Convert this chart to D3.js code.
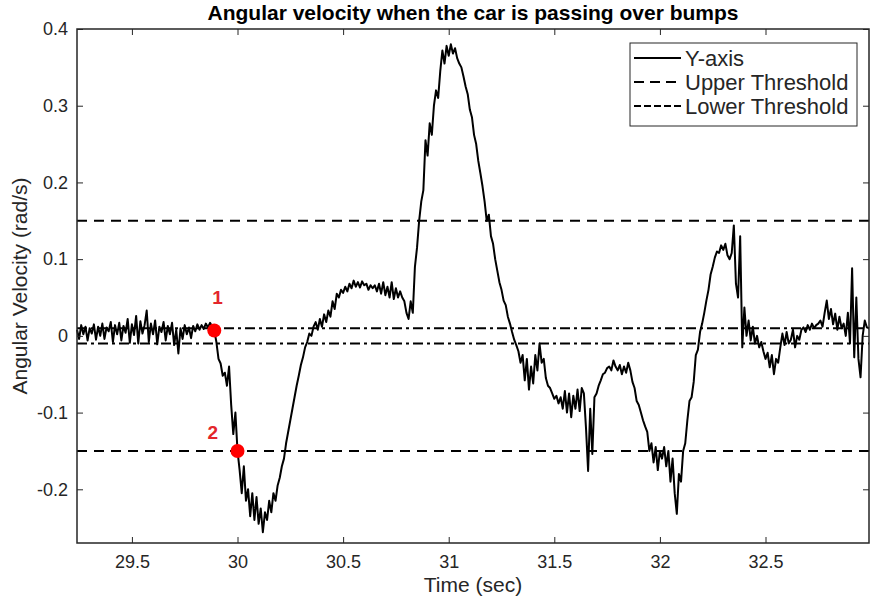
<!DOCTYPE html>
<html>
<head>
<meta charset="utf-8">
<script src="https://cdn.jsdelivr.net/npm/d3@7"></script>
<style>
  body { margin: 0; background: #fff; }
  text { font-family: "Liberation Sans", Arial, sans-serif; fill: #262626; }
</style>
</head>
<body>
<div id="chart"></div>
<script>
// signal: sampled every 10 ms starting at 29.24 s
var t0 = 29.24;
var dt = 0.01;
var yAxisValues = [
  .008,-.004,.014,.002,.012,-.006,.010,.003,.015,-.005,
  .012,.000,.016,-.004,.011,.006,.018,-.008,.014,.002,
  .017,-.006,.013,.004,.022,-.009,.015,.001,.026,-.010,
  .019,.003,.014,.033,-.008,.016,.002,.020,-.011,.012,
  .005,.018,-.006,.013,.002,.017,-.012,.008,-.023,.010,
  -.004,.014,.002,.011,-.003,.013,.006,.015,.008,.014,
  .009,.016,.011,.017,.012,.007,-.008,-.030,-.036,-.052,
  -.048,-.065,-.040,-.090,-.128,-.100,-.150,-.175,-.205,-.170,
  -.215,-.200,-.235,-.205,-.240,-.210,-.245,-.225,-.256,-.230,
  -.240,-.215,-.230,-.205,-.215,-.195,-.185,-.170,-.160,-.140,
  -.125,-.110,-.095,-.080,-.065,-.052,-.038,-.028,-.015,-.008,
  .003,.000,.012,.018,.008,.022,.012,.028,.018,.033,
  .025,.045,.035,.055,.050,.060,.056,.064,.058,.068,
  .062,.072,.064,.070,.063,.071,.066,.068,.060,.066,
  .062,.066,.058,.068,.055,.070,.053,.064,.050,.070,
  .048,.062,.050,.058,.050,.045,.030,.022,.045,.030,
  .090,.115,.150,.175,.190,.255,.235,.277,.262,.300,
  .320,.310,.345,.372,.355,.378,.365,.380,.368,.375,
  .362,.355,.350,.338,.325,.315,.295,.285,.262,.250,
  .228,.212,.195,.175,.150,.158,.130,.120,.100,.085,
  .070,.060,.046,.040,.025,.016,.005,-.005,-.012,-.020,
  -.035,-.025,-.058,-.030,-.070,-.040,-.062,-.025,-.045,-.010,
  -.035,-.030,-.055,-.065,-.068,-.075,-.082,-.078,-.088,-.080,
  -.095,-.072,-.100,-.075,-.106,-.078,-.095,-.070,-.098,-.068,
  -.075,-.120,-.176,-.095,-.154,-.080,-.075,-.065,-.058,-.050,
  -.048,-.042,-.040,-.045,-.032,-.040,-.045,-.038,-.050,-.040,
  -.048,-.035,-.045,-.060,-.068,-.085,-.090,-.100,-.110,-.118,
  -.125,-.150,-.140,-.165,-.145,-.175,-.150,-.160,-.145,-.170,
  -.150,-.190,-.160,-.205,-.232,-.180,-.190,-.150,-.140,-.110,
  -.085,-.080,-.060,-.025,-.018,.005,.016,.030,.046,.060,
  .080,.090,.102,.110,.108,.118,.112,.120,.105,.100,
  .108,.144,.068,.050,.130,-.015,.037,.000,.020,-.006,
  .012,-.010,.000,-.015,-.008,-.020,-.030,-.022,-.041,-.025,
  -.050,-.030,-.035,-.015,.003,-.012,.005,-.010,-.005,.008,
  -.015,.000,-.005,.008,.011,.005,.014,.008,.016,.010,
  .014,.016,.020,.012,.030,.046,.022,.035,.015,.029,
  .008,.025,.010,.016,.000,.030,-.010,.088,-.028,.050,
  -.030,-.054,.000,.020,.011,.010
];

var upperThreshold = [0.15, -0.15];
var lowerThreshold = [0.01, -0.01];

var markerTimes  = [29.89, 30.0];
var markerValues = [0.007, -0.15];
var markerLabels = ["1", "2"];

var xTicks = [29.5, 30, 30.5, 31, 31.5, 32, 32.5];
var yTicks = [-0.2, -0.1, 0, 0.1, 0.2, 0.3, 0.4];
var legendLabels = ["Y-axis", "Upper Threshold", "Lower Threshold"];

var svgWidth = 876, svgHeight = 608;
var plotLeft = 77, plotRight = 869, plotTop = 29, plotBottom = 543;
var axisColor = "#262626";

var svg = d3.select("#chart")
  .append("svg")
  .attr("width", svgWidth)
  .attr("height", svgHeight);

var x = d3.scaleLinear().domain([29.24, 32.99]).range([plotLeft, plotRight]);
var y = d3.scaleLinear().domain([-0.27, 0.4]).range([plotBottom, plotTop]);

var series = yAxisValues.map(function(v, i){ return {t: t0 + i * dt, v: v}; });

var dashStyle = "10,7";
var dashDotStyle = "10,4,3,4";

// plain hyphen minus like matlab
var tickFmt = function(d){ return String(d); };

////////////////////////////////////////////////////////////
// threshold lines
svg.selectAll("line.upper")
  .data(upperThreshold)
  .enter()
  .append("line")
  .attr("class", "upper")
  .attr("x1", x.range()[0]).attr("x2", x.range()[1])
  .attr("y1", d => y(d)).attr("y2", d => y(d))
  .attr("stroke", "#000")
  .attr("stroke-width", 2)
  .attr("stroke-dasharray", dashStyle);

svg.selectAll("line.lower")
  .data(lowerThreshold)
  .enter()
  .append("line")
  .attr("class", "lower")
  .attr("x1", x.range()[0]).attr("x2", x.range()[1])
  .attr("y1", d => y(d)).attr("y2", d => y(d))
  .attr("stroke", "#000")
  .attr("stroke-width", 2)
  .attr("stroke-dasharray", dashDotStyle);

// signal
var line = d3.line()
  .x(d => x(d.t))
  .y(d => y(d.v));

svg.append("path")
  .attr("d", line(series))
  .attr("fill", "none")
  .attr("stroke", "#000")
  .attr("stroke-width", 2)
  .attr("stroke-linejoin", "round");

// detection points
svg.selectAll("circle.mark")
  .data(markerTimes)
  .enter()
  .append("circle")
  .attr("class", "mark")
  .attr("cx", d => x(d))
  .attr("cy", (d, i) => y(markerValues[i]))
  .attr("r", 7)
  .attr("fill", "#ff0000");

svg.selectAll("text.mark")
  .data(markerLabels)
  .enter()
  .append("text")
  .attr("class", "mark")
  .attr("x", (d, i) => x(markerTimes[i]) + (i == 0 ? -2 : -30))
  .attr("y", (d, i) => y(markerValues[i]) - (i == 0 ? 26 : 12))
  .style("fill", "#e3262b")
  .style("font-size", "19px")
  .style("font-weight", "bold")
  .text(d => d);

////////////////////////////////////////////////////////////
// axes (MATLAB style box, ticks inside)
function styleAxis(g){
  g.select(".domain").remove();
  g.selectAll(".tick line").attr("stroke", axisColor).attr("stroke-width", 1);
  g.selectAll(".tick text").style("font-size", "18px").attr("fill", axisColor);
}

svg.append("g")
  .attr("transform", "translate(0," + plotBottom + ")")
  .call(d3.axisBottom(x).tickValues(xTicks).tickSize(-6).tickPadding(12).tickFormat(tickFmt))
  .call(styleAxis);

svg.append("g")
  .attr("transform", "translate(0," + plotTop + ")")
  .call(d3.axisTop(x).tickValues(xTicks).tickSize(-6).tickFormat(""))
  .call(styleAxis);

svg.append("g")
  .attr("transform", "translate(" + plotLeft + ",0)")
  .call(d3.axisLeft(y).tickValues(yTicks).tickSize(-6).tickPadding(9).tickFormat(tickFmt))
  .call(styleAxis);

svg.append("g")
  .attr("transform", "translate(" + plotRight + ",0)")
  .call(d3.axisRight(y).tickValues(yTicks).tickSize(-6).tickFormat(""))
  .call(styleAxis);

svg.append("rect")
  .attr("x", plotLeft).attr("y", plotTop)
  .attr("width", plotRight - plotLeft).attr("height", plotBottom - plotTop)
  .attr("fill", "none")
  .attr("stroke", axisColor)
  .attr("stroke-width", 1.5);

// titles
svg.append("text")
  .attr("x", (plotLeft + plotRight) / 2).attr("y", 20)
  .attr("text-anchor", "middle")
  .style("font-size", "21px")
  .style("font-weight", "bold")
  .style("fill", "#000")
  .text("Angular velocity when the car is passing over bumps");

svg.append("text")
  .attr("x", (plotLeft + plotRight) / 2).attr("y", 592)
  .attr("text-anchor", "middle")
  .style("font-size", "21px")
  .text("Time (sec)");

svg.append("text")
  .attr("transform", "translate(27," + ((plotTop + plotBottom) / 2) + ") rotate(-90)")
  .attr("text-anchor", "middle")
  .style("font-size", "21px")
  .text("Angular Velocity (rad/s)");

////////////////////////////////////////////////////////////
// legend
var legend = svg.append("g").attr("transform", "translate(630,43)");

legend.append("rect")
  .attr("width", 227).attr("height", 83)
  .attr("fill", "#fff")
  .attr("stroke", axisColor)
  .attr("stroke-width", 1);

var legendDash = [null, "10,6", "7,3"];

var rows = legend.selectAll("g.row")
  .data(legendLabels)
  .enter()
  .append("g")
  .attr("class", "row")
  .attr("transform", (d, i) => "translate(0," + (15 + i * 24) + ")");

rows.append("line")
  .attr("x1", 4).attr("x2", 51)
  .attr("stroke", "#000")
  .attr("stroke-width", 2)
  .attr("stroke-dasharray", (d, i) => legendDash[i]);

rows.append("text")
  .attr("x", 55).attr("dy", "0.35em")
  .style("font-size", "22px")
  .text(d => d);
</script>
</body>
</html>
